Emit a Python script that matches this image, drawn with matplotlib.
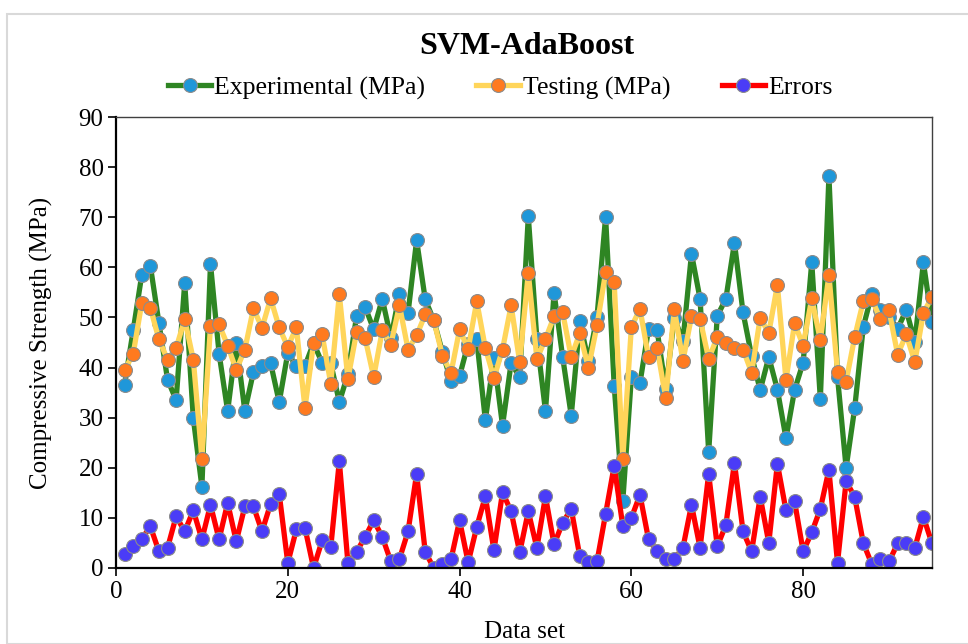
import numpy as np
import matplotlib.pyplot as plt
from matplotlib.patches import Rectangle

plt.rcParams['font.family'] = ['Liberation Serif', 'DejaVu Serif']

# data
data_set = list(range(1, 96))
experimental = [36.6, 47.4, 58.5, 60.3, 48.9, 37.6, 33.5, 56.9, 29.9, 16.2,
                60.7, 42.8, 31.3, 45.0, 31.3, 39.1, 40.4, 40.9, 33.1, 42.9,
                40.3, 40.3, 44.9, 40.9, 40.9, 33.1, 38.7, 50.2, 52.1, 47.6,
                53.7, 45.9, 54.7, 50.9, 65.4, 53.6, 49.4, 43.1, 37.3, 38.3,
                44.8, 45.6, 29.5, 41.9, 28.4, 40.9, 38.1, 70.2, 45.7, 31.3,
                54.9, 42.1, 30.4, 49.2, 41.3, 50.1, 70.1, 36.4, 13.3, 38.1,
                36.9, 47.7, 47.4, 35.7, 49.9, 45.3, 62.7, 53.7, 23.1, 50.3,
                53.7, 64.9, 51.0, 42.3, 35.5, 42.1, 35.6, 25.9, 35.5, 41.0,
                61.0, 33.7, 78.2, 38.1, 20.0, 31.9, 48.1, 54.7, 51.4, 50.1,
                47.7, 51.5, 45.1, 61.0, 49.0]
testing = [39.5, 42.7, 52.9, 51.9, 45.6, 41.6, 43.9, 49.6, 41.6, 21.8,
           48.2, 48.6, 44.4, 39.5, 43.6, 51.8, 47.9, 53.8, 48.0, 44.1,
           48.0, 31.9, 44.9, 46.6, 36.8, 54.6, 37.7, 47.0, 45.9, 38.1,
           47.4, 44.6, 52.4, 43.6, 46.4, 50.6, 49.4, 42.4, 38.9, 47.6,
           43.7, 53.2, 43.9, 37.9, 43.6, 52.4, 41.1, 58.9, 41.7, 45.7,
           50.2, 51.0, 42.1, 46.9, 39.9, 48.4, 59.0, 57.0, 21.8, 48.1,
           51.7, 42.1, 43.9, 33.9, 51.7, 41.3, 50.2, 49.7, 41.7, 46.1,
           44.9, 43.9, 43.6, 39.0, 49.9, 46.9, 56.5, 37.5, 48.8, 44.4,
           53.8, 45.5, 58.5, 39.1, 37.2, 46.1, 53.2, 53.7, 49.6, 51.4,
           42.6, 46.6, 41.1, 50.9, 54.1]
errors = [2.7, 4.3, 5.8, 8.3, 3.3, 4.0, 10.3, 7.3, 11.5, 5.7,
          12.6, 5.7, 13.0, 5.3, 12.3, 12.3, 7.3, 12.8, 14.8, 1.0,
          7.7, 8.0, 0.0, 5.5, 4.1, 21.3, 1.0, 3.2, 6.2, 9.5,
          6.2, 1.3, 1.8, 7.3, 18.8, 3.2, 0.0, 0.7, 1.7, 9.5,
          1.1, 8.2, 14.3, 3.5, 15.1, 11.3, 3.1, 11.3, 4.0, 14.3,
          4.7, 9.0, 11.8, 2.3, 1.1, 1.3, 10.8, 20.4, 8.4, 10.0,
          14.6, 5.7, 3.3, 1.8, 1.8, 4.0, 12.6, 4.0, 18.8, 4.3,
          8.6, 21.0, 7.3, 3.3, 14.2, 5.0, 20.8, 11.5, 13.3, 3.3,
          7.1, 11.8, 19.6, 1.0, 17.3, 14.2, 5.0, 0.7, 1.8, 1.3,
          4.9, 4.9, 4.0, 10.2, 4.9]

fig = plt.figure(figsize=(9.68, 6.44), dpi=100)
fig.patches.append(Rectangle((7 / 968, 0), 1, 1 - 14 / 644, transform=fig.transFigure,
                             fill=False, edgecolor='#d9d9d9', linewidth=1.5))
ax = fig.add_axes([116 / 968, 1 - 568 / 644, (932 - 116) / 968, (568 - 117) / 644])

mk = dict(marker='o', markersize=10, markeredgecolor='#8c8c8c', markeredgewidth=0.8)
ax.plot(data_set, experimental, color='#2e8523', linewidth=3.8,
        markerfacecolor='#1f97d9', label='Experimental (MPa)', **mk)
ax.plot(data_set, testing, color='#ffd55a', linewidth=3.8,
        markerfacecolor='#ff7a1f', label='Testing (MPa)', **mk)
ax.plot(data_set, errors, color='#ff0000', linewidth=3.8,
        markerfacecolor='#4a3cf7', label='Errors', **mk)

ax.set_xlim(0, 95)
ax.set_ylim(0, 90)
ax.set_xticks([0, 20, 40, 60, 80])
ax.set_yticks(np.arange(0, 91, 10))
ax.tick_params(labelsize=18, direction='out', length=6, width=1.2, colors='black', pad=3)
for side in ['left', 'bottom']:
    ax.spines[side].set_linewidth(1.6)
for side in ['top', 'right']:
    ax.spines[side].set_linewidth(1.0)
    ax.spines[side].set_color('#404040')

ax.set_xlabel('Data set', fontsize=18, labelpad=13)
ax.set_ylabel('Compressive Strength (MPa)', fontsize=18, labelpad=18)
fig.text(527 / 968, 1 - 46 / 644, 'SVM-AdaBoost', fontsize=23, fontweight='bold',
         ha='center', va='center')
fig.legend(loc='center', bbox_to_anchor=(500 / 968, 1 - 88 / 644), ncol=3, frameon=False,
           fontsize=18.5, handlelength=1.7, columnspacing=2.0, handletextpad=0.1)

fig.savefig('out.png', dpi=100)
